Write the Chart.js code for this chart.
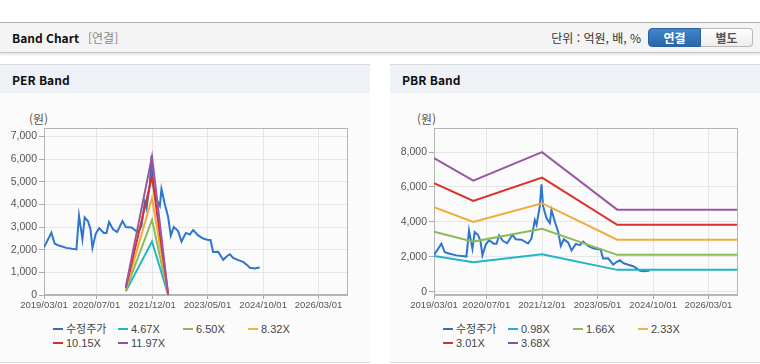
<!DOCTYPE html>
<html lang="ko">
<head>
<meta charset="utf-8">
<script src="https://cdn.jsdelivr.net/npm/chart.js@4.4.1/dist/chart.umd.min.js"></script>
<style>
  body { margin: 0; width: 760px; height: 364px; position: relative; overflow: hidden; background: #fff;
         font-family: 'Noto Sans CJK KR', 'Liberation Sans', sans-serif; }
  .bar { position: absolute; left: 0; top: 22px; width: 760px; height: 29px; background: #f4f4f4;
         border-top: 1px solid #b2b2b2; border-bottom: 1px solid #c4c4c4; box-shadow: 0 2px 2px rgba(0,0,0,.10); }
  .bar .title { position: absolute; left: 12px; top: 0; line-height: 29px; font-size: 12px; font-weight: bold; color: #111; }
  .bar .sub { position: absolute; left: 88px; top: 0; line-height: 29px; font-size: 12px; color: #888; }
  .bar .unit { position: absolute; right: 119px; top: 0; line-height: 29px; font-size: 12px; color: #333; }
  .btns { position: absolute; left: 648px; top: 5px; height: 19px; display: flex; }
  .btns span { display: block; width: 51px; height: 17px; line-height: 17px; text-align: center; font-size: 12px; font-weight: bold; }
  .btns .on { background: linear-gradient(#4286cc, #2966ab); color: #fff; border: 1px solid #2a62a0; border-radius: 4px 0 0 4px; }
  .btns .off { background: linear-gradient(#fff, #ededed); color: #555; border: 1px solid #b9b9b9; border-left: none; border-radius: 0 4px 4px 0; }
  .panel { position: absolute; top: 64px; width: 370px; height: 297px; background: #fbfbfb;
           border-top: 1px solid #d7dadf; border-bottom: 1px solid #dadada; }
  .panel .ph { height: 28px; line-height: 30px; background: #eef1f6; padding-left: 12px; font-size: 12px; font-weight: bold; color: #111; }
  .won { position: absolute; top: 110px; font-size: 12px; color: #555; line-height: 17px; }
  .wrap { position: absolute; top: 100px; width: 370px; height: 220px; }
  .legend { position: absolute; top: 322px; width: 370px; height: 30px; }
  .legend div { position: absolute; height: 14px; line-height: 14px; font-size: 11px; color: #444; white-space: nowrap;
                font-family: 'Liberation Sans', 'Noto Sans CJK KR', sans-serif; }
  .legend i { display: inline-block; width: 10px; height: 2px; margin-right: 3px; vertical-align: middle; position: relative; top: -1px; }
</style>
</head>
<body>
<div class="bar">
  <span class="title">Band Chart</span>
  <span class="sub">[연결]</span>
  <span class="unit">단위 : 억원, 배, %</span>
  <div class="btns"><span class="on">연결</span><span class="off">별도</span></div>
</div>

<div class="panel" style="left:0"><div class="ph">PER Band</div></div>
<div class="panel" style="left:390px"><div class="ph">PBR Band</div></div>

<div class="won" style="left:29px">(원)</div>
<div class="won" style="left:417px">(원)</div>

<div class="wrap" style="left:0"><canvas id="perChart" width="370" height="220"></canvas></div>
<div class="wrap" style="left:390px"><canvas id="pbrChart" width="370" height="220"></canvas></div>

<div class="legend" id="perLegend" style="left:0"></div>
<div class="legend" id="pbrLegend" style="left:390px"></div>

<script>
// x축 눈금
const xTickLabels = ['2019/03/01', '2020/07/01', '2021/12/01', '2023/05/01', '2024/10/01', '2026/03/01'];
const axisEnd = '2026/11/21';

// 수정주가
const priceDates = ['2019/03/01', '2019/05/09', '2019/06/09', '2019/07/25', '2019/09/26', '2019/12/28',
  '2020/01/21', '2020/02/22', '2020/03/14', '2020/04/14', '2020/05/07', '2020/05/25',
  '2020/06/25', '2020/07/26', '2020/09/08', '2020/10/03', '2020/10/27', '2020/12/03',
  '2021/01/10', '2021/03/01', '2021/04/01', '2021/05/24', '2021/07/24', '2021/08/25',
  '2021/09/25', '2021/10/11', '2021/11/10', '2021/11/26', '2021/12/11', '2022/01/12',
  '2022/02/12', '2022/02/27', '2022/03/30', '2022/04/30', '2022/05/25', '2022/06/22',
  '2022/08/01', '2022/09/02', '2022/10/12', '2022/11/18', '2022/12/19', '2023/02/04',
  '2023/03/22', '2023/05/08', '2023/05/30', '2023/06/23', '2023/08/09', '2023/09/25',
  '2023/10/26', '2023/11/26', '2023/12/27', '2024/02/12', '2024/03/29', '2024/04/30',
  '2024/05/31', '2024/07/16', '2024/08/16', '2024/08/30'];
const priceValues = [2100, 2750, 2260, 2170, 2080, 2010,
  3500, 2460, 3420, 3250, 2900, 2080,
  2700, 2950, 2740, 2740, 3220, 2900,
  2780, 3260, 3000, 2980, 2760, 3050,
  4100, 3830, 4880, 6150, 4900, 4200,
  3930, 4680, 4020, 3440, 2620, 3000,
  2820, 2360, 2740, 2670, 2870, 2630,
  2490, 2430, 2430, 1900, 1910, 1550,
  1700, 1800, 1640, 1540, 1460, 1340,
  1200, 1170, 1200, 1210];

// PER 밴드
const perLabels = ['4.67X', '6.50X', '8.32X', '10.15X', '11.97X'];
const perDates = ['2021/04/01', '2021/12/01', '2022/05/01'];
const per467 = [160, 2360, 0];
const per650 = [210, 3320, 0];
const per832 = [260, 4280, 0];
const per1015 = [320, 5230, 0];
const per1197 = [370, 6120, 0];
const perTicks = [0, 1000, 2000, 3000, 4000, 5000, 6000, 7000];

// PBR 밴드
const pbrLabels = ['0.98X', '1.66X', '2.33X', '3.01X', '3.68X'];
const pbrDates = ['2019/03/01', '2020/03/01', '2021/12/01', '2023/11/01', axisEnd];
const pbr098 = [2050, 1690, 2150, 1250, 1250];
const pbr166 = [3440, 2870, 3610, 2110, 2110];
const pbr233 = [4840, 3990, 5070, 2980, 2980];
const pbr301 = [6220, 5200, 6540, 3830, 3830];
const pbr368 = [7650, 6360, 8000, 4700, 4700];
const pbrTicks = [0, 2000, 4000, 6000, 8000];

const colors = ['#2e75cc', '#20b5c6', '#8bbb58', '#f3aa3c', '#d8322b', '#9a58a4'];
const legendColors = ['#3a6db0', '#26b3c5', '#8db85a', '#f2b247', '#c8372d', '#8a4f9e'];

Chart.defaults.font.family = "'Liberation Sans', Arial, 'Noto Sans CJK KR', sans-serif";

const ts = s => { const p = s.split('/').map(Number); return Date.UTC(p[0], p[1] - 1, p[2]); };
const series = (dates, values) => dates.map((d, i) => ({ x: ts(d), y: values[i] }));

const framePlugin = {
    id: 'frame',
    beforeDatasetsDraw(chart) {
        const a = chart.chartArea, ctx = chart.ctx;
        ctx.save();
        ctx.strokeStyle = '#b5b5b5';
        ctx.lineWidth = 1;
        ctx.strokeRect(Math.round(a.left) + 0.5, Math.round(a.top) + 0.5, Math.round(a.right - a.left), Math.round(a.bottom - a.top) - 1);
        ctx.restore();
    }
};

function makeChart(id, labels, dates, bands, yMin, yMax, yTicks) {
    const datasets = [{ label: '수정주가', data: series(priceDates, priceValues), borderColor: colors[0], order: 6 }];
    bands.forEach((b, i) => {
        datasets.push({ label: labels[i], data: series(dates, b), borderColor: colors[i + 1], order: 5 - i });
    });
    return new Chart(document.getElementById(id), {
        type: 'line',
        data: { datasets: datasets },
        plugins: [framePlugin],
        options: {
            responsive: false,
            animation: false,
            layout: { padding: { top: 28, right: 23, left: 0, bottom: 0 } },
            plugins: { legend: { display: false }, tooltip: { enabled: false } },
            elements: { point: { radius: 0 }, line: { borderWidth: 2, tension: 0 } },
            scales: {
                x: {
                    type: 'linear', min: ts(xTickLabels[0]), max: ts(axisEnd),
                    afterBuildTicks: s => { s.ticks = xTickLabels.map(l => ({ value: ts(l) })); },
                    afterFit: s => { s.height = 25; },
                    ticks: { callback: (v, i) => xTickLabels[i], maxRotation: 0, autoSkip: false, padding: 1, color: '#555', font: { size: 9.5 } },
                    grid: { color: '#e6e6e6', tickColor: '#aaa', tickLength: 4 },
                    border: { color: '#b5b5b5' }
                },
                y: {
                    min: yMin, max: yMax,
                    afterBuildTicks: s => { s.ticks = yTicks.map(v => ({ value: v })); },
                    afterFit: s => { s.width = 44; },
                    ticks: { callback: v => v.toLocaleString('en-US'), padding: 2, color: '#555', font: { size: 10.5 } },
                    grid: { color: '#e6e6e6', tickColor: '#aaa', tickLength: 5 },
                    border: { color: '#b5b5b5' }
                }
            }
        }
    });
}

makeChart('perChart', perLabels, perDates, [per467, per650, per832, per1015, per1197], 0, 7370, perTicks);
makeChart('pbrChart', pbrLabels, pbrDates, [pbr098, pbr166, pbr233, pbr301, pbr368], -190, 9380, pbrTicks);

function makeLegend(id, labels) {
    const box = document.getElementById(id);
    ['수정주가'].concat(labels).forEach((l, i) => {
        const d = document.createElement('div');
        d.style.left = (53 + 65 * (i % 4)) + 'px';
        d.style.top = (Math.floor(i / 4) * 14) + 'px';
        d.innerHTML = '<i style="background:' + legendColors[i] + '"></i>' + l;
        box.appendChild(d);
    });
}
makeLegend('perLegend', perLabels);
makeLegend('pbrLegend', pbrLabels);
</script>
</body>
</html>
